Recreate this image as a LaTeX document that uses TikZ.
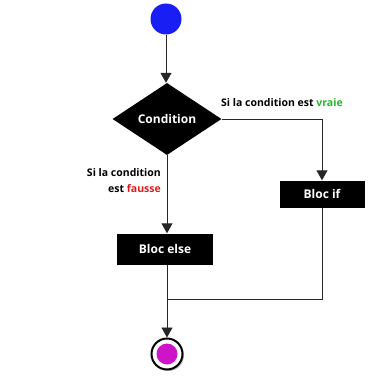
\documentclass[tikz,border=0pt]{standalone}
\usepackage{fontspec}
\setmainfont{Open Sans}
\usetikzlibrary{shapes.geometric,arrows.meta,shadows}
\definecolor{startblue}{RGB}{25,30,245}
\definecolor{endmag}{RGB}{205,20,200}
\definecolor{vgreen}{RGB}{40,180,40}
\definecolor{fred}{RGB}{225,25,25}
\begin{document}
\begin{tikzpicture}[x=1pt,y=-1pt,
  conn/.style={draw=black!85,line width=0.9pt},
  arr/.style={conn,-{Triangle[length=10pt,width=11pt]}},
  blockbox/.style={rectangle,fill=black,text=white,font=\bfseries\fontsize{12}{14}\selectfont,inner sep=0pt},
  lbl/.style={font=\bfseries\fontsize{10.5}{12}\selectfont,inner sep=0pt}]
\useasboundingbox (0,0) rectangle (368,382);
\node[circle,fill=startblue,minimum size=31pt,inner sep=0pt] (start) at (166,19) {};
\node[diamond,fill=black,text=white,minimum width=109pt,minimum height=72pt,inner sep=0pt,font=\bfseries\fontsize{12}{14}\selectfont] (cond) at (167,119) {Condition};
\node[blockbox,minimum width=85pt,minimum height=27pt] (bif) at (322,194) {Bloc if};
\node[blockbox,minimum width=96pt,minimum height=31pt] (belse) at (165,249) {Bloc else};
\node[circle,draw=black,line width=2pt,fill=white,minimum size=31pt,inner sep=0pt,drop shadow={shadow xshift=1.5pt,shadow yshift=-1.5pt,opacity=0.5}] (stop) at (167,354) {};
\node[circle,fill=endmag,minimum size=21pt,inner sep=0pt] (stopin) at (stop.center) {};
\coordinate (join) at (322,299);
\coordinate (rt) at (322,119);
\draw[arr] (start) -- (start |- cond.north);
\draw[arr] (cond.east) -- (rt) -- (bif.north);
\draw[arr] (cond.south) -- (cond.south |- belse.north);
\draw[arr] (belse.south -| stop) -- (stop.north);
\draw[conn] (bif.south) -- (join) -- (join -| stop);
\node[lbl,anchor=base west] (lv) at (221,107) {Si la condition est \textcolor{vgreen}{vraie}};
\node[lbl,anchor=base east] (lf1) at (161,176) {Si la condition};
\node[lbl,anchor=base east] (lf2) at (161,192) {est \textcolor{fred}{fausse}};
\end{tikzpicture}
\end{document}
